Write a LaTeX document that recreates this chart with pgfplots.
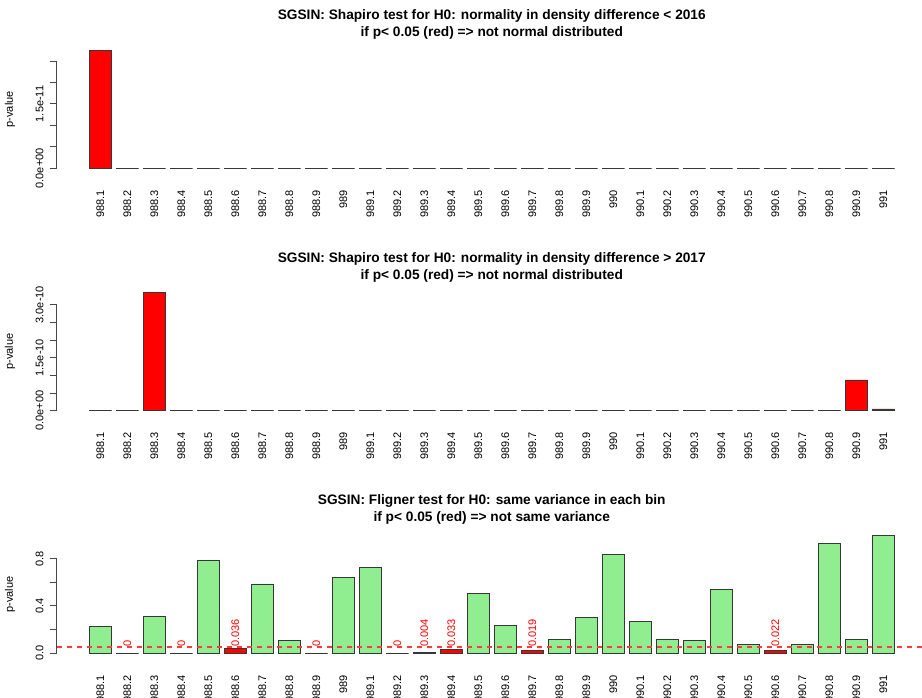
\documentclass[border=0pt]{standalone}
\usepackage{pgfplots}
\pgfplotsset{compat=1.18}
\usepackage{pgfplotstable}
\usepackage{fontspec}
\setmainfont{Liberation Sans}

\definecolor{lightgreen}{RGB}{144,238,144}
\definecolor{barborder}{RGB}{55,55,55}
\definecolor{axisgrey}{RGB}{70,70,70}
\definecolor{threshred}{RGB}{255,60,60}

\newcommand{\tickfont}{\fontsize{11}{13}\selectfont}

% p-values of the Shapiro tests (density difference < 2016 and > 2017)
\pgfplotstableread{
x p
0 2.74e-11
1 0
2 0
3 0
4 0
5 0
6 0
7 0
8 0
9 0
10 0
11 0
12 0
13 0
14 0
15 0
16 0
17 0
18 0
19 0
20 0
21 0
22 0
23 0
24 0
25 0
26 0
27 0
28 0
29 0
}\shapiroA
\pgfplotstableread{
x p
0 0
1 0
2 3.34e-10
3 0
4 0
5 0
6 0
7 0
8 0
9 0
10 0
11 0
12 0
13 0
14 0
15 0
16 0
17 0
18 0
19 0
20 0
21 0
22 0
23 0
24 0
25 0
26 0
27 0
28 0.87e-10
29 0.05e-10
}\shapiroB
% Fligner test p-values, split by the 0.05 threshold
\pgfplotstableread{
x p
0 0.223
2 0.308
4 0.782
6 0.585
7 0.104
9 0.638
10 0.723
14 0.508
15 0.237
17 0.116
18 0.302
19 0.839
20 0.271
21 0.119
22 0.110
23 0.540
24 0.070
26 0.070
27 0.932
28 0.116
29 0.994
}\flignerOK
\pgfplotstableread{
x p
1 0
3 0
5 0.036
8 0
11 0
12 0.004
13 0.033
16 0.019
25 0.022
}\flignerLow
\pgfplotstableread{
x y label
1 0.05 0
3 0.05 0
5 0.05 0.036
8 0.05 0
11 0.05 0
12 0.05 0.004
13 0.05 0.033
16 0.05 0.019
25 0.05 0.022
}\flignerLabels
% the p = 0.05 threshold across the whole panel
\pgfplotstableread{
x y
-1.617 0.05
30.617 0.05
}\threshold

\pgfplotsset{
  rpanel/.style={
    scale only axis, width=870.3pt, anchor=south west,
    xmin=-1.617, xmax=30.617,
    clip=false,
    axis line style={draw=none},
    xtick={0,...,29},
    xticklabels={988.1,988.2,988.3,988.4,988.5,988.6,988.7,988.8,988.9,989,
                 989.1,989.2,989.3,989.4,989.5,989.6,989.7,989.8,989.9,990,
                 990.1,990.2,990.3,990.4,990.5,990.6,990.7,990.8,990.9,991},
    xtick style={draw=none},
    xticklabel style={yshift=-10pt, rotate=90, anchor=east, font=\tickfont, inner sep=0pt},
    ytick pos=left, tick align=outside, major tick length=7pt,
    ytick style={draw=axisgrey, line width=0.9pt},
    yticklabel style={xshift=-6pt, rotate=90, anchor=south, font=\tickfont, inner sep=0pt},
    scaled y ticks=false,
    ylabel={p-value},
    ylabel style={at={(axis description cs:0,0.5)}, anchor=center, yshift=46.6pt, font=\tickfont},
    every axis title shift=0pt,
    title style={font=\bfseries\fontsize{13.7}{17}\selectfont, align=center,
                 at={(0.5,1)}, anchor=south, inner sep=0pt, yshift=6pt},
  },
  rbar/.style={ybar, bar width=0.8333, bar shift=0pt, draw=barborder, line width=0.9pt},
  yaxisline/.style={draw=axisgrey, line width=0.9pt},
}

\begin{document}
\begin{tikzpicture}
\useasboundingbox (0pt,0pt) rectangle (922pt,-697pt);

% Shapiro test, density difference < 2016
\begin{axis}[rpanel, at={(56.6pt,-172.7pt)}, height=126.7pt,
  ymin=-0.1025e-11, ymax=2.849e-11,
  ytick={0,0.5e-11,1e-11,1.5e-11,2e-11,2.5e-11},
  yticklabels={0.0e+00,,,1.5e-11,,},
  title={SGSIN: Shapiro test for H0: normality in density difference < 2016\\if p< 0.05 (red) => not normal distributed}]
  \addplot[yaxisline] coordinates {(-1.617,0) (-1.617,2.5e-11)};
  \addplot[rbar, fill=red] table[x=x, y=p] {\shapiroA};
\end{axis}

% Shapiro test, density difference > 2017
\begin{axis}[rpanel, at={(56.6pt,-415.2pt)}, height=127pt,
  ymin=-0.127e-10, ymax=3.467e-10,
  ytick={0,0.5e-10,1e-10,1.5e-10,2e-10,2.5e-10,3e-10},
  yticklabels={0.0e+00,,,1.5e-10,,,3.0e-10},
  title={SGSIN: Shapiro test for H0: normality in density difference > 2017\\if p< 0.05 (red) => not normal distributed}]
  \addplot[yaxisline] coordinates {(-1.617,0) (-1.617,3e-10)};
  \addplot[rbar, fill=red] table[x=x, y=p] {\shapiroB};
\end{axis}

% Fligner test
\begin{axis}[rpanel, at={(56.6pt,-657.7pt)}, height=126.7pt,
  ymin=-0.0398, ymax=1.034,
  ytick={0,0.2,0.4,0.6,0.8},
  yticklabels={0.0,,0.4,,0.8},
  title={SGSIN: Fligner test for H0: same variance in each bin\\if p< 0.05 (red) => not same variance}]
  \addplot[yaxisline] coordinates {(-1.617,0) (-1.617,0.8)};
  \addplot[rbar, fill=lightgreen] table[x=x, y=p] {\flignerOK};
  \addplot[rbar, fill=red] table[x=x, y=p] {\flignerLow};
  \addplot[draw=none, nodes near coords, point meta=explicit symbolic,
    nodes near coords style={rotate=90, anchor=west, inner sep=0pt, text=red, font=\tickfont}]
    table[x=x, y=y, meta=label] {\flignerLabels};
  \addplot[threshred, line width=1.3pt, dash pattern=on 5.5pt off 4.5pt]
    table[x=x, y=y] {\threshold};
\end{axis}
\end{tikzpicture}
\end{document}
